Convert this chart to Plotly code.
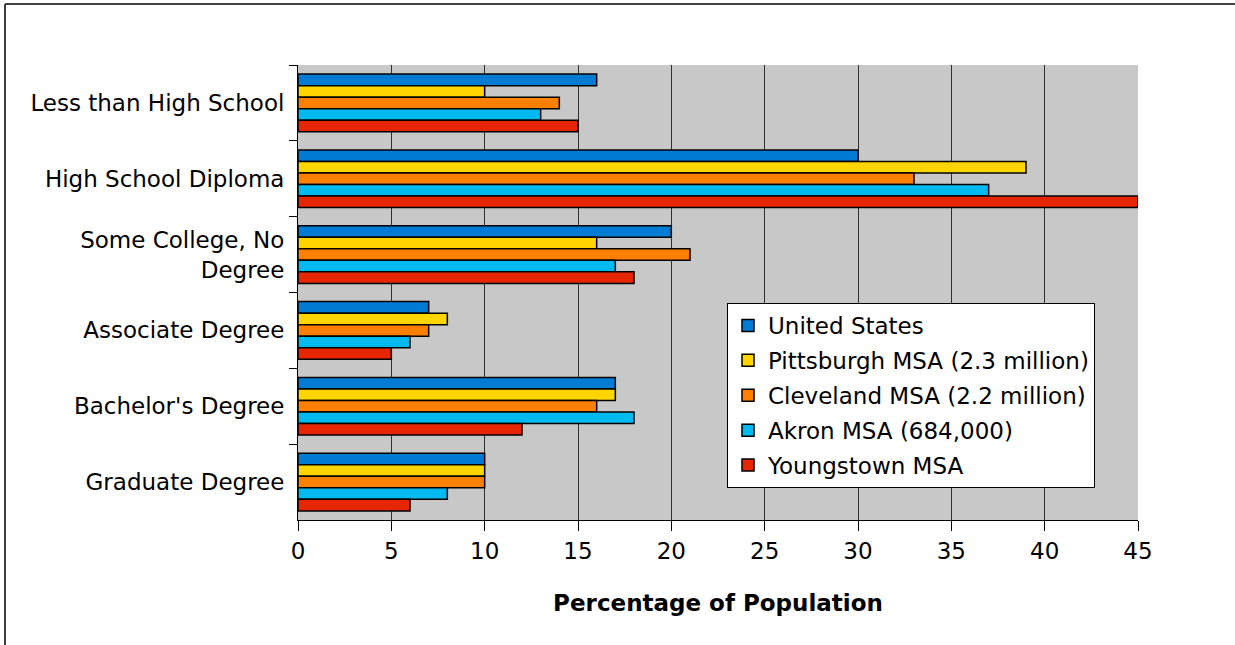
import plotly.graph_objects as go

categories = ["Less than High School", "High School Diploma", "Some College, No<br>Degree",
              "Associate Degree", "Bachelor's Degree", "Graduate Degree"]
series_names = ["United States", "Pittsburgh MSA (2.3 million)", "Cleveland MSA (2.2 million)",
                "Akron MSA (684,000)", "Youngstown MSA"]
united_states = [16, 30, 20, 7, 17, 10]
pittsburgh = [10, 39, 16, 8, 17, 10]
cleveland = [14, 33, 21, 7, 16, 10]
akron = [13, 37, 17, 6, 18, 8]
youngstown = [15, 45, 18, 5, 12, 6]
colors = ["#007BD3", "#FFD500", "#FF7F00", "#00B9EE", "#E52600"]
x_ticks = [0, 5, 10, 15, 20, 25, 30, 35, 40, 45]

FONT = "Verdana, DejaVu Sans, sans-serif"
FS = 23

fig = go.Figure()
for i, (name, vals, col) in enumerate(zip(series_names,
                                          [united_states, pittsburgh, cleveland, akron, youngstown],
                                          colors)):
    fig.add_trace(go.Bar(
        y=categories, x=vals, name=name, orientation="h", legendgroup=f"g{i}",
        marker=dict(color=col, line=dict(color="black", width=1.5)),
    ))

W, H = 1235, 645
ml, mr, mt, mb = 298, 97, 65, 125
pw, ph = W - ml - mr, H - mt - mb

def px_x(p):
    return (p - ml) / pw

def px_y(p):
    return (H - mb - p) / ph

fig.update_layout(
    width=W, height=H,
    margin=dict(l=ml, r=mr, t=mt, b=mb),
    paper_bgcolor="white",
    plot_bgcolor="#C8C8C8",
    barmode="group",
    bargap=0.24,
    bargroupgap=0,
    font=dict(family=FONT, size=FS, color="black"),
    xaxis=dict(
        range=[0, 45], tickvals=x_ticks, showgrid=True, gridcolor="#303030", gridwidth=1,
        showline=True, linecolor="black", linewidth=1, ticks="outside", ticklen=10,
        tickcolor="black", zeroline=False, tickfont=dict(size=FS),
        title=dict(text="<b>Percentage of Population</b>", font=dict(size=FS), standoff=32),
    ),
    yaxis=dict(
        autorange="reversed", showline=True, linecolor="black", linewidth=1,
        ticks="outside", ticklen=8, tickcolor="black", tickson="boundaries",
        showgrid=False, tickfont=dict(size=FS), ticklabelstandoff=8,
    ),
    legend=dict(
        x=px_x(727), y=px_y(303), xanchor="left", yanchor="top",
        bgcolor="white", bordercolor="black", borderwidth=1,
        font=dict(size=FS), traceorder="grouped", tracegroupgap=2,
        itemwidth=30,
    ),
    shapes=[
        dict(type="line", xref="paper", yref="paper",
             x0=px_x(5), x1=px_x(1240), y0=px_y(4), y1=px_y(4),
             line=dict(color="#404040", width=2), layer="below"),
        dict(type="line", xref="paper", yref="paper",
             x0=px_x(5), x1=px_x(5), y0=px_y(4), y1=px_y(650),
             line=dict(color="#404040", width=2), layer="below"),
    ],
)

fig.write_html("out.html")
